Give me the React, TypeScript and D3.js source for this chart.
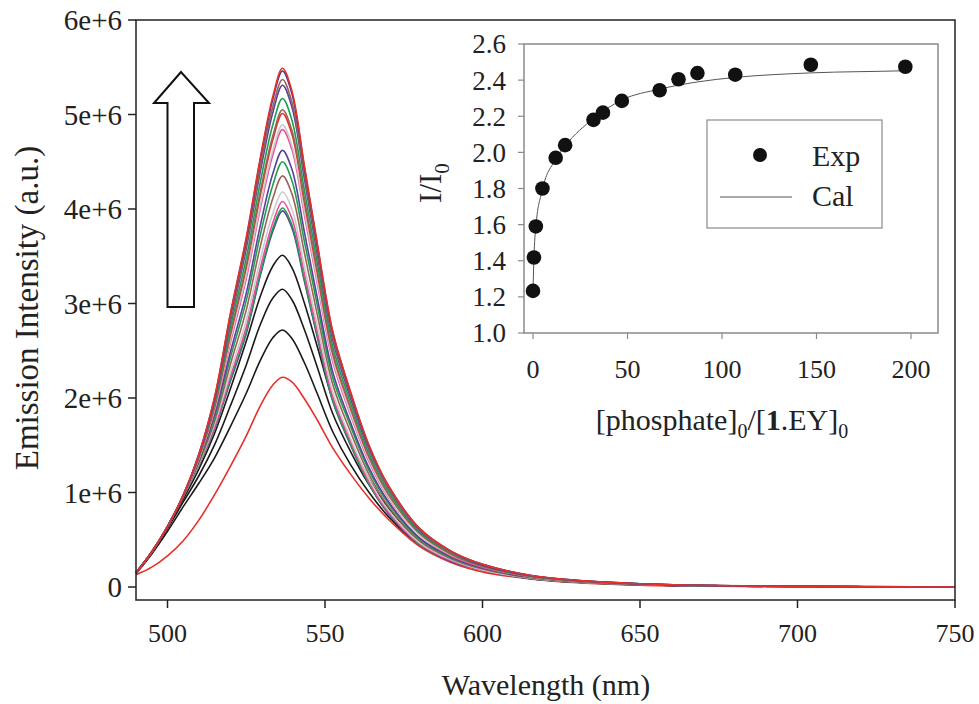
import React from "react";
import * as d3 from "d3";

// Emission wavelengths (nm) at which every spectrum is sampled
const wavelengths = [490, 495, 500, 505, 510, 515, 520, 525, 529.5, 533.5, 536.5, 539.5, 543.5, 547.5, 552.5, 558, 564, 570, 580, 590, 600, 615, 630, 650, 675, 700, 750];

// Emission intensity (units of 1e6 a.u.), one row per titration step
const emission: number[][] = [
  [0.15, 0.37, 0.64, 0.97, 1.41, 2.02, 2.90, 3.70, 4.55, 5.20, 5.49, 5.25, 4.45, 3.65, 2.70, 2.08, 1.50, 1.08, 0.62, 0.38, 0.24, 0.125, 0.070, 0.035, 0.015, 0.007, 0],
  [0.15, 0.37, 0.64, 0.97, 1.41, 2.01, 2.89, 3.68, 4.53, 5.17, 5.46, 5.22, 4.43, 3.63, 2.69, 2.07, 1.49, 1.08, 0.62, 0.38, 0.24, 0.124, 0.070, 0.035, 0.015, 0.007, 0],
  [0.15, 0.37, 0.64, 0.97, 1.40, 1.99, 2.84, 3.62, 4.45, 5.09, 5.37, 5.13, 4.36, 3.57, 2.64, 2.04, 1.47, 1.06, 0.61, 0.37, 0.24, 0.122, 0.069, 0.034, 0.015, 0.007, 0],
  [0.15, 0.37, 0.64, 0.97, 1.40, 1.98, 2.81, 3.58, 4.40, 5.03, 5.31, 5.08, 4.31, 3.53, 2.61, 2.01, 1.45, 1.05, 0.60, 0.37, 0.23, 0.121, 0.068, 0.034, 0.014, 0.007, 0],
  [0.15, 0.37, 0.64, 0.97, 1.39, 1.95, 2.75, 3.48, 4.29, 4.90, 5.17, 4.94, 4.19, 3.44, 2.54, 1.96, 1.41, 1.02, 0.58, 0.36, 0.23, 0.118, 0.066, 0.033, 0.014, 0.007, 0],
  [0.15, 0.37, 0.64, 0.97, 1.38, 1.92, 2.69, 3.40, 4.19, 4.78, 5.05, 4.83, 4.10, 3.36, 2.48, 1.91, 1.38, 0.99, 0.57, 0.35, 0.22, 0.115, 0.065, 0.032, 0.014, 0.006, 0],
  [0.15, 0.37, 0.64, 0.97, 1.37, 1.91, 2.67, 3.38, 4.15, 4.74, 5.01, 4.79, 4.06, 3.33, 2.46, 1.90, 1.37, 0.99, 0.57, 0.35, 0.22, 0.114, 0.064, 0.032, 0.014, 0.006, 0],
  [0.15, 0.37, 0.64, 0.96, 1.36, 1.89, 2.62, 3.30, 4.05, 4.63, 4.89, 4.67, 3.97, 3.25, 2.41, 1.85, 1.34, 0.96, 0.55, 0.34, 0.22, 0.111, 0.063, 0.031, 0.013, 0.006, 0],
  [0.15, 0.37, 0.64, 0.96, 1.36, 1.87, 2.59, 3.26, 4.01, 4.58, 4.84, 4.63, 3.93, 3.22, 2.38, 1.83, 1.32, 0.95, 0.55, 0.33, 0.21, 0.110, 0.062, 0.031, 0.013, 0.006, 0],
  [0.15, 0.37, 0.64, 0.96, 1.34, 1.83, 2.49, 3.11, 3.83, 4.38, 4.62, 4.42, 3.75, 3.07, 2.27, 1.75, 1.26, 0.91, 0.52, 0.32, 0.20, 0.105, 0.059, 0.030, 0.012, 0.006, 0],
  [0.15, 0.37, 0.64, 0.96, 1.33, 1.80, 2.43, 3.03, 3.73, 4.26, 4.50, 4.30, 3.65, 2.99, 2.21, 1.71, 1.23, 0.89, 0.51, 0.31, 0.20, 0.103, 0.058, 0.029, 0.012, 0.006, 0],
  [0.15, 0.37, 0.64, 0.96, 1.32, 1.76, 2.36, 2.93, 3.61, 4.12, 4.35, 4.16, 3.53, 2.89, 2.14, 1.65, 1.19, 0.86, 0.49, 0.30, 0.19, 0.099, 0.056, 0.028, 0.012, 0.006, 0],
  [0.15, 0.37, 0.64, 0.96, 1.31, 1.73, 2.28, 2.82, 3.47, 3.96, 4.18, 4.00, 3.39, 2.78, 2.06, 1.58, 1.14, 0.82, 0.47, 0.29, 0.18, 0.095, 0.054, 0.027, 0.011, 0.005, 0],
  [0.15, 0.37, 0.64, 0.96, 1.30, 1.70, 2.23, 2.75, 3.38, 3.86, 4.08, 3.90, 3.31, 2.71, 2.01, 1.55, 1.11, 0.80, 0.46, 0.28, 0.18, 0.093, 0.052, 0.026, 0.011, 0.005, 0],
  [0.15, 0.37, 0.64, 0.96, 1.29, 1.69, 2.20, 2.70, 3.32, 3.80, 4.01, 3.83, 3.25, 2.67, 1.97, 1.52, 1.09, 0.79, 0.45, 0.28, 0.18, 0.091, 0.051, 0.026, 0.011, 0.005, 0],
  [0.15, 0.37, 0.64, 0.96, 1.29, 1.68, 2.18, 2.68, 3.30, 3.77, 3.98, 3.80, 3.23, 2.65, 1.96, 1.51, 1.09, 0.78, 0.45, 0.27, 0.18, 0.091, 0.051, 0.025, 0.011, 0.005, 0],
  [0.15, 0.37, 0.63, 0.93, 1.25, 1.63, 2.10, 2.60, 3.08, 3.40, 3.51, 3.38, 3.00, 2.55, 1.98, 1.55, 1.14, 0.84, 0.49, 0.30, 0.19, 0.100, 0.056, 0.026, 0.011, 0.005, 0],
  [0.15, 0.36, 0.62, 0.90, 1.18, 1.51, 1.92, 2.35, 2.78, 3.06, 3.15, 3.04, 2.72, 2.33, 1.83, 1.44, 1.08, 0.80, 0.47, 0.29, 0.18, 0.095, 0.053, 0.025, 0.011, 0.005, 0],
  [0.14, 0.35, 0.59, 0.85, 1.10, 1.37, 1.70, 2.05, 2.40, 2.64, 2.72, 2.63, 2.37, 2.05, 1.64, 1.30, 1.00, 0.75, 0.45, 0.28, 0.18, 0.090, 0.050, 0.024, 0.010, 0.005, 0],
  [0.13, 0.21, 0.33, 0.49, 0.71, 0.98, 1.28, 1.60, 1.92, 2.14, 2.22, 2.17, 1.99, 1.77, 1.47, 1.20, 0.94, 0.72, 0.43, 0.26, 0.16, 0.085, 0.045, 0.019, 0.008, 0.004, 0],
];

const curveColors = [
  "#e8302a", "#3c3a96", "#976455", "#58409b", "#1f9e50", "#976455", "#e8302a",
  "#cbcbcb", "#ea4f9d", "#58409b", "#1f9e50", "#976455", "#cbcbcb", "#ea4f9d",
  "#1f9e50", "#58409b", "#1a1a1a", "#1a1a1a", "#1a1a1a", "#e8302a",
];

const xTicks = [500, 550, 600, 650, 700, 750];
const yTicks = [0, 1, 2, 3, 4, 5, 6];
const yTickLabels = ["0", "1e+6", "2e+6", "3e+6", "4e+6", "5e+6", "6e+6"];

// Inset: relative intensity vs. phosphate equivalents
const phosphateRatio = [0, 0.5, 1.5, 5, 12, 17, 32, 37, 47, 67, 77, 87, 107, 147, 197];
const relIntensity = [1.233, 1.418, 1.59, 1.80, 1.97, 2.04, 2.18, 2.22, 2.285, 2.344, 2.405, 2.439, 2.43, 2.485, 2.474];
const calRatio = [0, 0.5, 1.5, 5, 12, 17, 32, 47, 67, 87, 107, 147, 197, 200];
const calIntensity = [1.233, 1.418, 1.59, 1.794, 1.96, 2.035, 2.187, 2.29, 2.35, 2.39, 2.415, 2.44, 2.452, 2.453];
const insetXTicks = [0, 50, 100, 150, 200];
const insetYTicks = [1.0, 1.2, 1.4, 1.6, 1.8, 2.0, 2.2, 2.4, 2.6];

const FONT = "'Liberation Serif', 'Times New Roman', serif";
const INK = "#222";

export default function App() {
  // main panel
  const left = 136, right = 955, top = 20, bottom = 600;
  const x = d3.scaleLinear().domain([490, 750]).range([left, right]);
  const y = d3.scaleLinear().domain([0, 6]).range([587, top]);
  const line = d3
    .line<number>()
    .x((_, i) => x(wavelengths[i]))
    .y((d) => y(d))
    .curve(d3.curveCatmullRom.alpha(0.5));

  // inset panel
  const iL = 524, iR = 938, iT = 44, iB = 333;
  const ix = d3.scaleLinear().domain([0, 200]).range([533, 911]);
  const iy = d3.scaleLinear().domain([1.0, 2.6]).range([iB, iT]);
  const calLine = d3
    .line<number>()
    .x((d) => ix(d))
    .y((_, i) => iy(calIntensity[i]))
    .curve(d3.curveMonotoneX);

  const order = emission.map((_, i) => i).reverse();

  return (
    <svg
      width={979}
      height={704}
      style={{ position: "absolute", left: 0, top: 0, background: "#fff" }}
      fontFamily={FONT}
    >
      <rect x={0} y={0} width={979} height={704} fill="#fff" />

      {/* spectra */}
      <g fill="none" strokeWidth={1.6}>
        {order.map((i) => (
          <path key={i} d={line(emission[i]) ?? ""} stroke={curveColors[i]} />
        ))}
      </g>

      {/* main frame */}
      <rect x={left} y={top} width={right - left} height={bottom - top} fill="none" stroke={INK} strokeWidth={1.5} />

      {yTicks.map((t, i) => (
        <g key={t}>
          <line x1={left - 8} x2={left} y1={y(t)} y2={y(t)} stroke={INK} strokeWidth={1.5} />
          <text x={left - 14} y={y(t)} dy="0.35em" textAnchor="end" fontSize={29} fill={INK}>
            {yTickLabels[i]}
          </text>
        </g>
      ))}
      {xTicks.map((t) => (
        <g key={t}>
          <line x1={x(t)} x2={x(t)} y1={bottom} y2={bottom + 8} stroke={INK} strokeWidth={1.5} />
          <text x={x(t)} y={642} textAnchor="middle" fontSize={26} fill={INK}>
            {t}
          </text>
        </g>
      ))}
      <text x={546} y={695} textAnchor="middle" fontSize={30} fill={INK}>
        Wavelength (nm)
      </text>
      <text transform="translate(38,308) rotate(-90)" textAnchor="middle" fontSize={33} fill={INK}>
        Emission Intensity (a.u.)
      </text>

      {/* arrow */}
      <polygon
        points="181,72 154,103 167.5,103 167.5,307 194,307 194,103 209,103"
        fill="#fff"
        stroke="#111"
        strokeWidth={2}
        strokeLinejoin="miter"
      />

      {/* inset */}
      <rect x={iL} y={iT} width={iR - iL} height={iB - iT} fill="none" stroke="#8a8a8a" strokeWidth={1.5} />
      {insetYTicks.map((t) => (
        <g key={t}>
          <line x1={iL - 6} x2={iL} y1={iy(t)} y2={iy(t)} stroke="#8a8a8a" strokeWidth={1.2} />
          <text x={506} y={iy(t)} dy="0.35em" textAnchor="end" fontSize={27} fill={INK}>
            {t.toFixed(1)}
          </text>
        </g>
      ))}
      {insetXTicks.map((t) => (
        <g key={t}>
          <line x1={ix(t)} x2={ix(t)} y1={iB} y2={iB + 6} stroke="#8a8a8a" strokeWidth={1.2} />
          <text x={ix(t)} y={378} textAnchor="middle" fontSize={26} fill={INK}>
            {t}
          </text>
        </g>
      ))}
      <path d={calLine(calRatio) ?? ""} fill="none" stroke="#555" strokeWidth={1} />
      {phosphateRatio.map((p, i) => (
        <circle key={i} cx={ix(p)} cy={iy(relIntensity[i])} r={7.3} fill="#111" />
      ))}

      <text x={722} y={430} textAnchor="middle" fontSize={30} fill={INK}>
        [phosphate]
        <tspan fontSize={20} dy={8}>0</tspan>
        <tspan dy={-8}>/[</tspan>
        <tspan fontWeight="bold">1</tspan>
        <tspan>.EY]</tspan>
        <tspan fontSize={20} dy={8}>0</tspan>
      </text>
      <text transform="translate(441,183) rotate(-90)" textAnchor="middle" fontSize={31} fill={INK}>
        I/I
        <tspan fontSize={21} dy={8}>0</tspan>
      </text>

      {/* legend */}
      <rect x={707} y={120} width={175} height={108} fill="#fff" stroke="#8a8a8a" strokeWidth={1.2} />
      <circle cx={760} cy={155} r={7} fill="#111" />
      <text x={812} y={166} fontSize={30} fill={INK}>Exp</text>
      <line x1={720} x2={792} y1={197} y2={197} stroke="#555" strokeWidth={1} />
      <text x={812} y={206} fontSize={30} fill={INK}>Cal</text>
    </svg>
  );
}
